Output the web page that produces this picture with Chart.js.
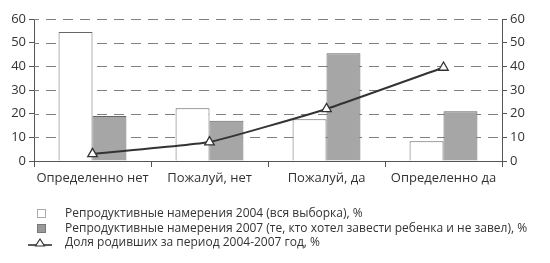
<!DOCTYPE html>
<html><head><meta charset="utf-8">
<script src="https://cdn.jsdelivr.net/npm/chart.js@4"></script>
<style>
html,body{margin:0;padding:0;background:#fff;}
#wrap{position:relative;width:550px;height:263px;}
canvas{position:absolute;left:0;top:0;}
.leg{position:absolute;left:0;font-family:"Open Sans","Noto Sans",sans-serif;font-size:12px;color:#333;white-space:nowrap;}
.leg span{position:absolute;left:65px;top:0;line-height:14px;}
.box{position:absolute;left:37px;top:3px;width:9px;height:9px;box-sizing:border-box;border:1px solid #888;}
</style></head><body>
<div id="wrap">
<canvas id="c" width="550" height="263"></canvas>
<div class="leg" style="top:206px;"><div class="box" style="background:#fff;border-color:#aaa"></div><span>Репродуктивные намерения 2004 (вся выборка), %</span></div>
<div class="leg" style="top:221px;"><div class="box" style="background:#999;border-color:#777"></div><span>Репродуктивные намерения 2007 (те, кто хотел завести ребенка и не завел), %</span></div>
<div class="leg" style="top:235px;"><svg style="position:absolute;left:27px;top:0" width="26" height="14"><line x1="1" y1="10" x2="25" y2="10" stroke="#333" stroke-width="1.6"/><polygon points="13,4 17.5,11 8.5,11" fill="#fff" stroke="#333" stroke-width="1.2"/></svg><span>Доля родивших за период 2004-2007 год, %</span></div>
</div>
<script>
const categories = ["Определенно нет", "Пожалуй, нет", "Пожалуй, да", "Определенно да"];
const intent2004 = [54.5, 22.3, 17.6, 8.3];
const intent2007 = [19, 17, 45.5, 21];
const birthShare = [3, 8, 22, 39.5];
const yTicks = [0, 10, 20, 30, 40, 50, 60];

const dashedGrid = {
  id: 'dashedGrid',
  beforeDatasetsDraw(chart) {
    const {ctx, chartArea} = chart;
    const ys = chart.scales.y;
    ctx.save();
    ctx.strokeStyle = '#808080';
    ctx.lineWidth = 1;
    ctx.setLineDash([10, 7]);
    ctx.lineDashOffset = -12;
    yTicks.forEach(v => {
      if (v === 0) return;
      const py = Math.round(ys.getPixelForValue(v)) + 0.5;
      ctx.beginPath();
      ctx.moveTo(chartArea.left, py);
      ctx.lineTo(chartArea.right, py);
      ctx.stroke();
    });
    ctx.restore();
  }
};

const font = {family: '"Open Sans","Noto Sans",sans-serif', size: 13};
new Chart(document.getElementById('c'), {
  plugins: [dashedGrid],
  data: {
    labels: categories,
    datasets: [
      {type: 'line', label: 'Доля родивших за период 2004-2007 год, %', data: birthShare, yAxisID: 'y2',
       borderColor: '#333', borderWidth: 2, tension: 0.12, pointStyle: 'triangle', pointRadius: 5.5,
       pointBackgroundColor: '#fff', pointBorderColor: '#333', pointBorderWidth: 1.3, order: 0},
      {type: 'bar', label: 'Репродуктивные намерения 2004 (вся выборка), %', data: intent2004, yAxisID: 'y',
       backgroundColor: '#fff', borderColor: '#666', borderWidth: 1, categoryPercentage: 0.58, barPercentage: 1, order: 1},
      {type: 'bar', label: 'Репродуктивные намерения 2007 (те, кто хотел завести ребенка и не завел), %', data: intent2007, yAxisID: 'y',
       backgroundColor: '#a6a6a6', borderColor: '#666', borderWidth: 1, categoryPercentage: 0.58, barPercentage: 1, order: 1}
    ]
  },
  options: {
    responsive: false, animation: false,
    layout: {padding: {top: 19, bottom: 73, left: 0, right: 0}},
    plugins: {legend: {display: false}, tooltip: {enabled: false}},
    scales: {
      x: {
        grid: {drawOnChartArea: false, drawTicks: true, tickLength: 6, color: '#555'},
        border: {color: '#555', width: 1},
        ticks: {font: font, color: '#333', padding: 3, maxRotation: 0, minRotation: 0, autoSkip: false},
        afterFit: s => { s.height = 29; }
      },
      y: {
        position: 'left', min: 0, max: 60,
        afterBuildTicks: s => { s.ticks = yTicks.map(v => ({value: v})); },
        grid: {drawOnChartArea: false, tickLength: 5, color: '#555'},
        border: {color: '#555', width: 1},
        ticks: {font: font, color: '#333', padding: 3},
        afterFit: s => { s.width = 34; }
      },
      y2: {
        position: 'right', min: 0, max: 60,
        afterBuildTicks: s => { s.ticks = yTicks.map(v => ({value: v})); },
        grid: {drawOnChartArea: false, tickLength: 5, color: '#555'},
        border: {color: '#555', width: 1},
        ticks: {font: font, color: '#333', padding: 3},
        afterFit: s => { s.width = 48; }
      }
    }
  }
});
</script>
</body></html>
